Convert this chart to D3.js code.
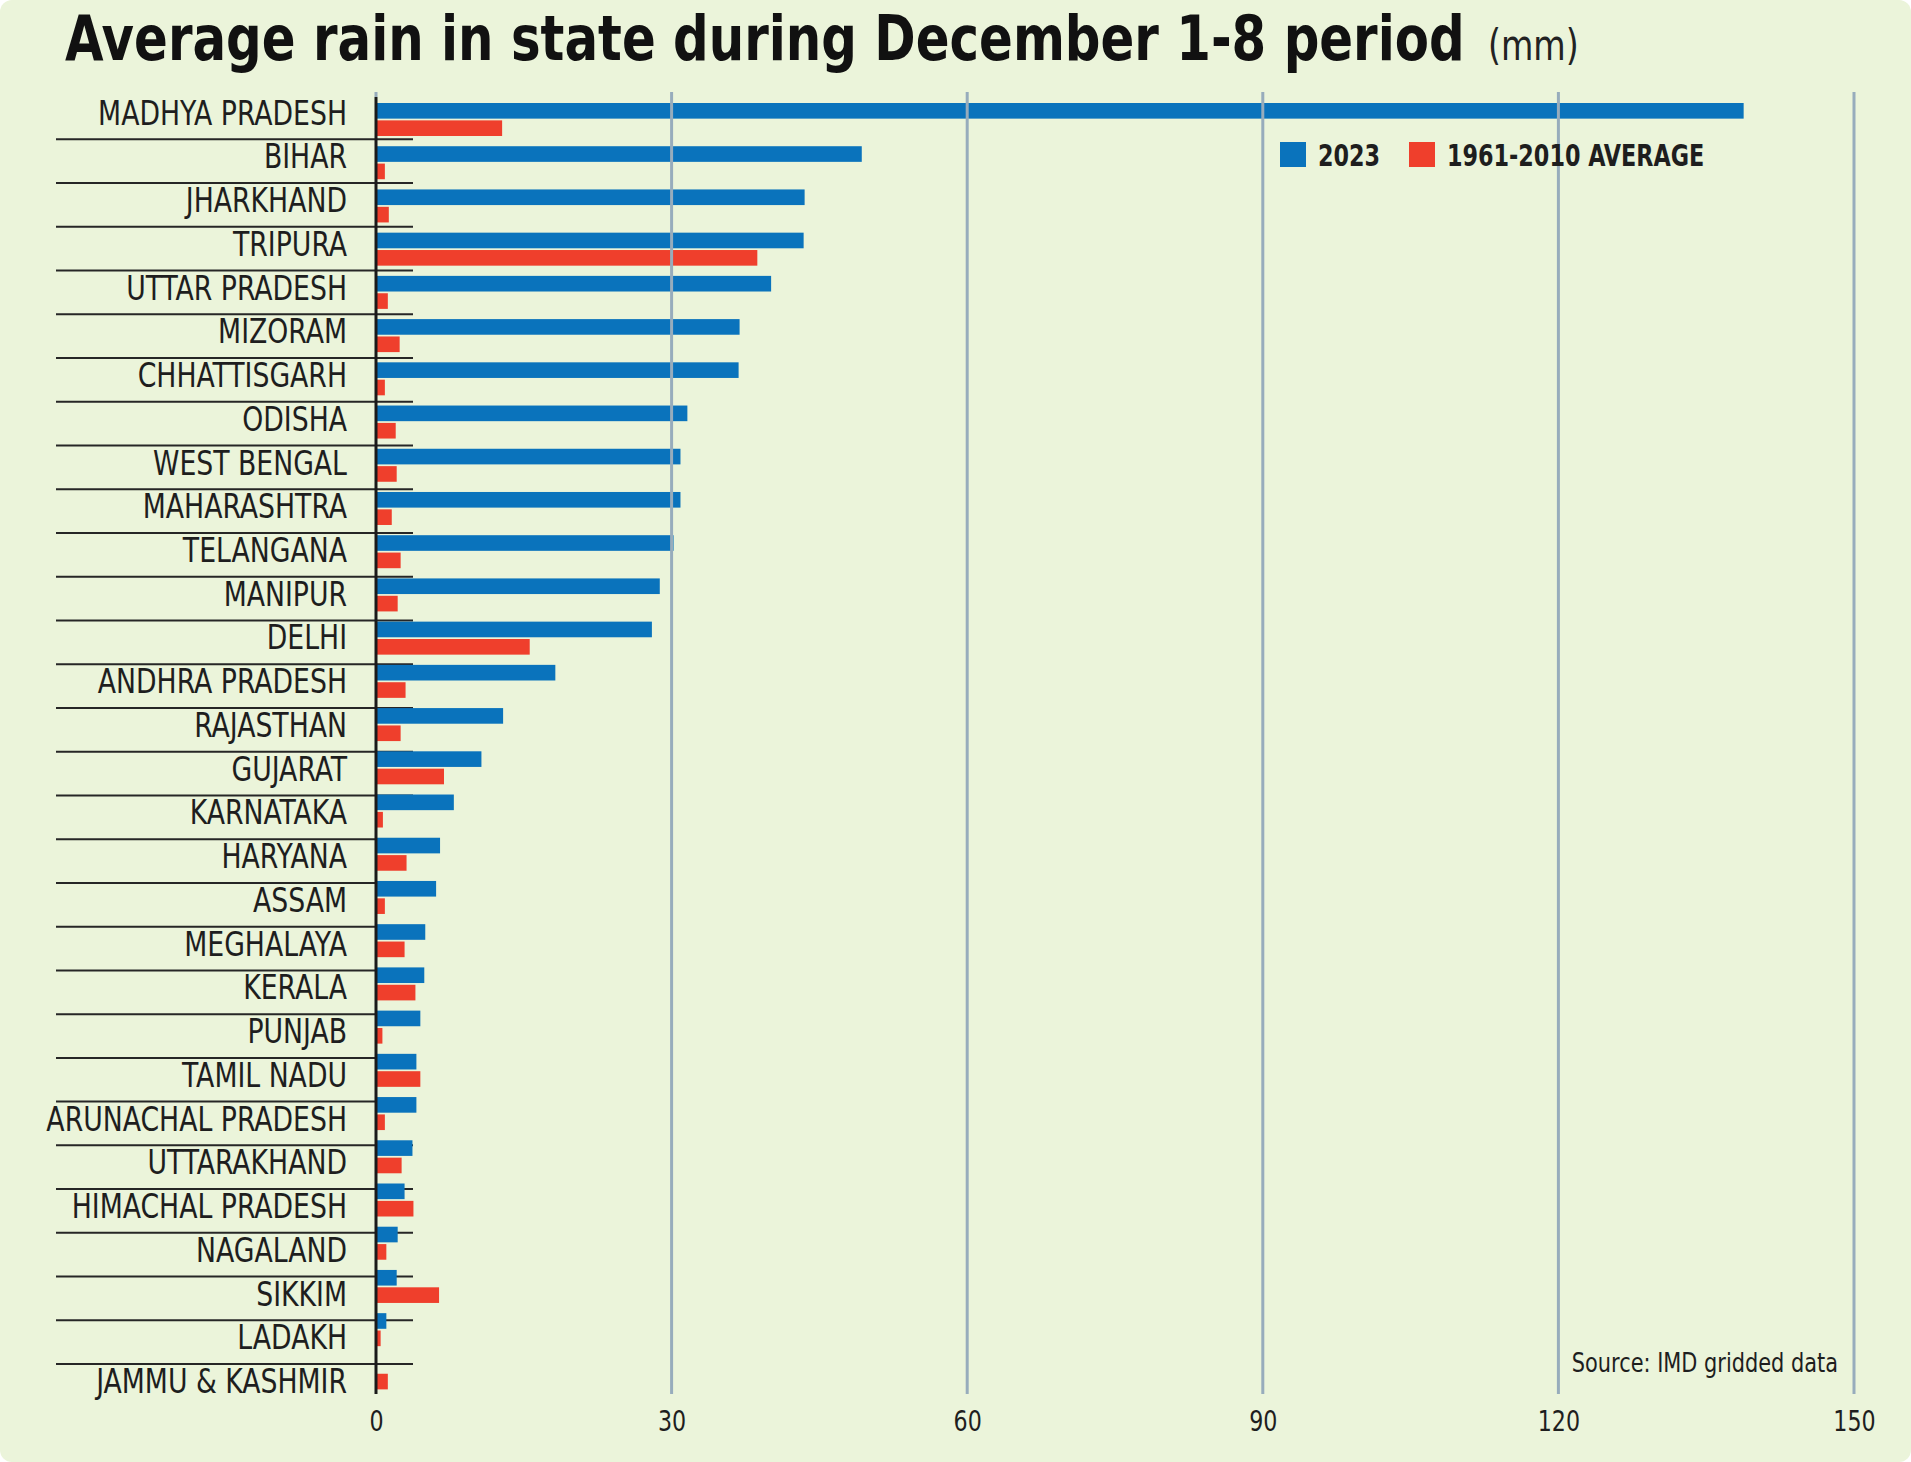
<!DOCTYPE html>
<html>
<head>
<meta charset="utf-8">
<script src="https://cdn.jsdelivr.net/npm/d3@7"></script>
<style>
    body { margin: 0; background: #ffffff; }
    text { font-family: "Liberation Sans Narrow", "Arial Narrow", "DejaVu Sans Condensed", sans-serif; fill: #1e1e1e; }
</style>
</head>
<body>
<div id="chart"></div>
<script>
// states, top to bottom
const states = [
    'MADHYA PRADESH', 'BIHAR', 'JHARKHAND', 'TRIPURA', 'UTTAR PRADESH', 'MIZORAM',
    'CHHATTISGARH', 'ODISHA', 'WEST BENGAL', 'MAHARASHTRA', 'TELANGANA', 'MANIPUR',
    'DELHI', 'ANDHRA PRADESH', 'RAJASTHAN', 'GUJARAT', 'KARNATAKA', 'HARYANA',
    'ASSAM', 'MEGHALAYA', 'KERALA', 'PUNJAB', 'TAMIL NADU', 'ARUNACHAL PRADESH',
    'UTTARAKHAND', 'HIMACHAL PRADESH', 'NAGALAND', 'SIKKIM', 'LADAKH', 'JAMMU & KASHMIR'
];

// rain in mm, Dec 1-8, 2023
const rain2023 = [
    138.8, 49.3, 43.5, 43.4, 40.1, 36.9,
    36.8, 31.6, 30.9, 30.9, 30.2, 28.8,
    28.0, 18.2, 12.9, 10.7, 7.9, 6.5,
    6.1, 5.0, 4.9, 4.5, 4.1, 4.1,
    3.7, 2.9, 2.2, 2.1, 1.05, 0
];

// 1961-2010 average for the same period
const rainAvg = [
    12.8, 0.9, 1.3, 38.7, 1.2, 2.4,
    0.9, 2.0, 2.1, 1.6, 2.5, 2.2,
    15.6, 3.0, 2.5, 6.9, 0.7, 3.1,
    0.9, 2.9, 4.0, 0.65, 4.5, 0.9,
    2.6, 3.8, 1.05, 6.4, 0.47, 1.2
];

const xTicks = [0, 30, 60, 90, 120, 150];

const seriesKeys = ['y2023', 'avg'];
const seriesNames = ['2023', '1961-2010 AVERAGE'];
const seriesColors = ['#0a73bc', '#ef3f2c'];

const data = states.map((s, i) => ({ state: s, y2023: rain2023[i], avg: rainAvg[i] }));

const width = 1911, height = 1462;

// squeeze a text horizontally (no narrow font installed)
function narrow(sel, x, y, f) {
    sel.attr('x', 0).attr('y', 0)
        .attr('transform', (d, i) => `translate(${typeof x === 'function' ? x(d, i) : x},${typeof y === 'function' ? y(d, i) : y}) scale(${f},1)`);
}

const svg = d3.select('#chart')
    .append('svg')
    .attr('width', width)
    .attr('height', height);

// panel background
svg.append('rect')
    .attr('width', width)
    .attr('height', height)
    .attr('rx', 12)
    .attr('fill', '#ebf4da');

// Scales
const xScale = d3.scaleLinear()
    .domain([0, 150])
    .range([376, 1854]);

// bars and rows were laid out on slightly different steps in the original
const yBars = d3.scaleBand()
    .domain(states)
    .range([96, 1392.6]);

const ySeries = d3.scaleBand()
    .domain(seriesKeys)
    .range([7, 40])
    .paddingInner(0.1);

const yRows = d3.scaleBand()
    .domain(states)
    .range([95.6, 1407.8]);

const color = d3.scaleOrdinal().domain(seriesKeys).range(seriesColors);

// Title, squeezed to the width of the original
const title = svg.append('text')
    .style('font-size', '63px')
    .style('font-weight', 'bold')
    .style('fill', '#111')
    .text('Average rain in state during December 1-8 period');
const titleLen = title.node().getComputedTextLength();
title.call(narrow, 65, 60, Math.min(1, 1400 / titleLen));

svg.append('text')
    .style('font-size', '42px')
    .style('fill', '#222')
    .text('(mm)')
    .call(narrow, 1488, 60, 0.88);

// row separators
svg.append('g')
    .selectAll('line')
    .data(states.slice(0, -1))
    .join('line')
    .attr('x1', 56)
    .attr('x2', 413)
    .attr('y1', d => yRows(d) + yRows.bandwidth())
    .attr('y2', d => yRows(d) + yRows.bandwidth())
    .attr('stroke', '#262626')
    .attr('stroke-width', 2);

// state labels
svg.append('g')
    .selectAll('text')
    .data(states)
    .join('text')
    .attr('text-anchor', 'end')
    .style('font-size', '33px')
    .text(d => d)
    .call(narrow, 347, d => yRows(d) + 29, 0.9);

// bars
const rows = svg.append('g')
    .selectAll('g')
    .data(data)
    .join('g')
    .attr('transform', d => `translate(0,${yBars(d.state)})`);

rows.selectAll('rect')
    .data(d => seriesKeys.map(k => ({ key: k, value: d[k] })))
    .join('rect')
    .attr('x', xScale(0))
    .attr('y', d => ySeries(d.key))
    .attr('width', d => xScale(d.value) - xScale(0))
    .attr('height', ySeries.bandwidth())
    .attr('fill', d => color(d.key));

// vertical grid lines (drawn over the bars)
svg.append('g')
    .selectAll('line')
    .data(xTicks.slice(1))
    .join('line')
    .attr('x1', d => xScale(d))
    .attr('x2', d => xScale(d))
    .attr('y1', 92)
    .attr('y2', 1394)
    .attr('stroke', '#97acbc')
    .attr('stroke-width', 3);

svg.append('line')
    .attr('x1', xScale(0))
    .attr('x2', xScale(0))
    .attr('y1', 92)
    .attr('y2', 97)
    .attr('stroke', '#97acbc')
    .attr('stroke-width', 3);

// zero axis
svg.append('line')
    .attr('x1', xScale(0))
    .attr('x2', xScale(0))
    .attr('y1', 97)
    .attr('y2', 1394)
    .attr('stroke', '#1a1a1a')
    .attr('stroke-width', 3);

// x axis labels
const xAxis = d3.axisBottom(xScale)
    .tickValues(xTicks)
    .tickSize(0)
    .tickPadding(16);

svg.append('g')
    .attr('transform', 'translate(0,1394)')
    .call(xAxis)
    .call(g => g.select('.domain').remove())
    .call(g => g.selectAll('.tick text')
        .style('font-size', '29px')
        .style('font-family', '"Liberation Sans Narrow", "Arial Narrow", "DejaVu Sans Condensed", sans-serif')
        .attr('fill', '#1e1e1e')
        .attr('transform', 'scale(0.85,1)'));

// legend
const legend = svg.append('g')
    .attr('transform', 'translate(1280,142)');

const legendX = [0, 129];

legend.selectAll('rect')
    .data(seriesKeys)
    .join('rect')
    .attr('x', (d, i) => legendX[i])
    .attr('y', 0)
    .attr('width', 26)
    .attr('height', 25)
    .attr('fill', d => color(d));

legend.selectAll('text')
    .data(seriesNames)
    .join('text')
    .style('font-size', '31px')
    .style('font-weight', 'bold')
    .text(d => d)
    .call(narrow, (d, i) => legendX[i] + 38, 24, 0.8);

// source
svg.append('text')
    .attr('text-anchor', 'end')
    .style('font-size', '27px')
    .text('Source: IMD gridded data')
    .call(narrow, 1838, 1372, 0.86);
</script>
</body>
</html>
